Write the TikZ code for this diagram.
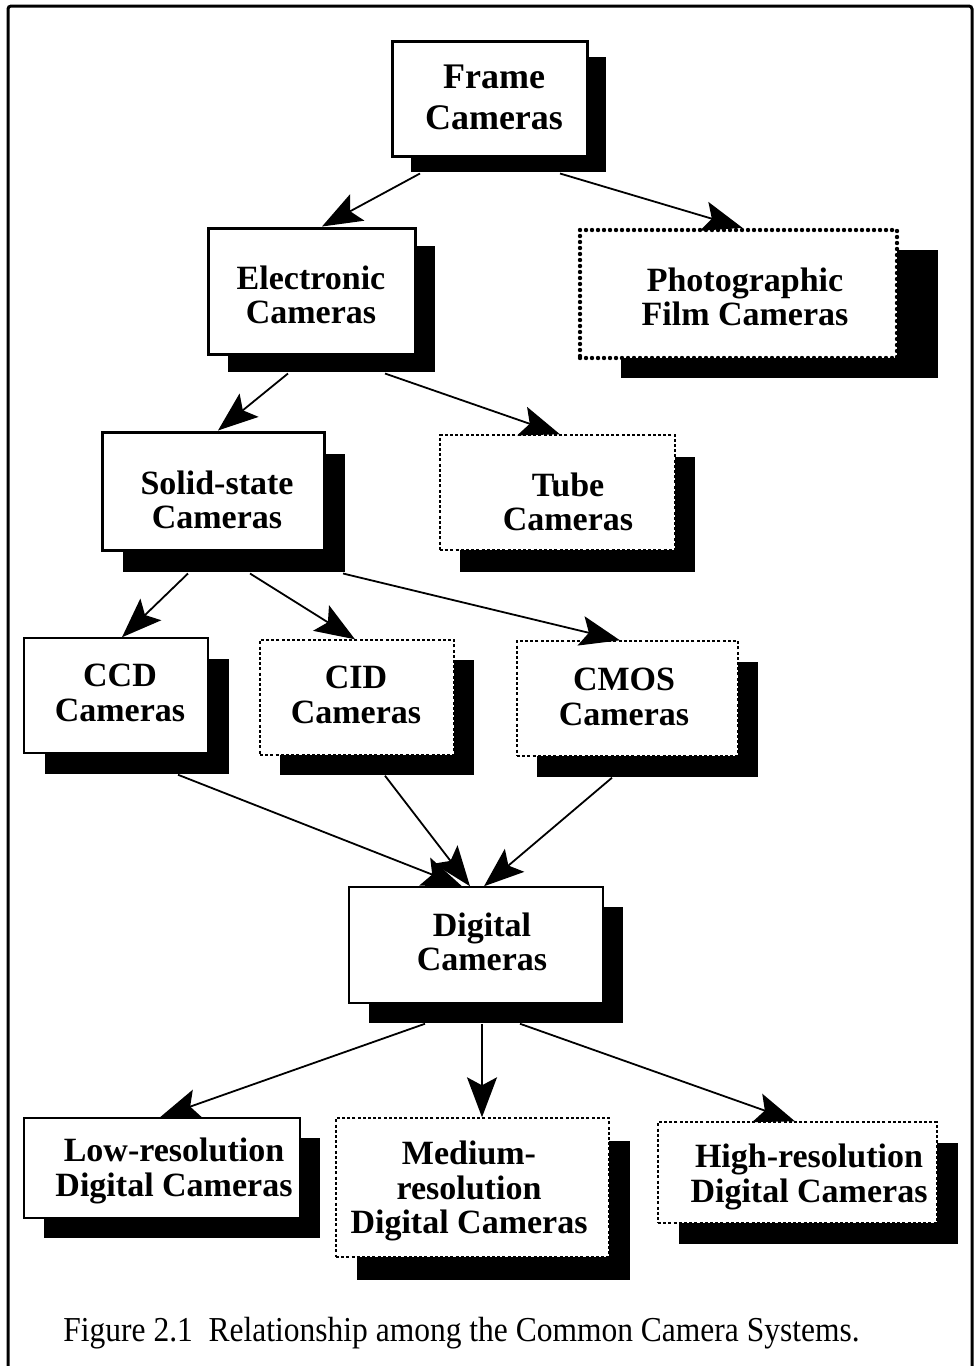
\documentclass[tikz,border=0pt]{standalone}
\usepackage{fontspec}
\setmainfont{Liberation Serif}
\usetikzlibrary{shadows,arrows.meta}

\begin{document}
\begin{tikzpicture}[x=1pt,y=-1pt,
  camtext/.style={align=center,inner sep=0pt,font=\bfseries\fontsize{34}{34.5}\selectfont},
  cambox/.style n args={4}{rectangle,fill=white,inner sep=0pt,
    minimum width=#1pt,minimum height=#2pt,
    general shadow={fill=black,draw=none,shadow xshift=#3pt,shadow yshift=-#4pt}},
  heavyline/.style={draw=black,line width=3pt},
  thinline/.style={draw=black,line width=1.5pt},
  heavydots/.style={draw=black,line width=4.4pt,line cap=round,dash pattern=on 0pt off 6pt},
  thindash/.style={draw=black,line width=1.4pt,dash pattern=on 3pt off 2.2pt},
  link/.style={line width=1.8pt,-{Stealth[length=40pt,width=30pt,inset=8pt,fill=black]}}
]
\useasboundingbox (0,0) rectangle (975,1366);

% outer frame (open at the foot of the page)
\draw[line width=3pt,rounded corners=3pt] (8,1372) -- (8,6) -- (972,6) -- (972,1372);

% boxes
\node[cambox={195}{115}{19}{16},heavyline] (frame) at (489.5,98.5) {};
\node[camtext,font=\bfseries\fontsize{36}{41}\selectfont] (frame-t) at (494,97) {Frame\\Cameras};

\node[cambox={207}{126}{20}{18},heavyline] (elec) at (311.5,291) {};
\node[camtext] (elec-t) at (311,295) {Electronic\\Cameras};

\node[cambox={317}{128}{41}{20},heavydots] (photo) at (738.5,294) {};
\node[camtext] (photo-t) at (745,297) {Photographic\\Film Cameras};

\node[cambox={222}{118}{21}{22},heavyline] (solid) at (213,491) {};
\node[camtext] (solid-t) at (217,500) {Solid-state\\Cameras};

\node[cambox={235}{115}{20}{22},thindash] (tube) at (557.5,492.5) {};
\node[camtext] (tube-t) at (568,502) {Tube\\Cameras};

\node[cambox={184}{115}{21}{21},thinline] (ccd) at (116,695.5) {};
\node[camtext] (ccd-t) at (120,693) {CCD\\Cameras};

\node[cambox={194}{115}{20}{20},thindash] (cid) at (357,697.5) {};
\node[camtext] (cid-t) at (356,695) {CID\\Cameras};

\node[cambox={221}{115}{20}{21},thindash] (cmos) at (627.5,698.5) {};
\node[camtext] (cmos-t) at (624,697) {CMOS\\Cameras};

\node[cambox={254}{116}{20}{20},thinline] (digital) at (476,945) {};
\node[camtext] (digital-t) at (482,942) {Digital\\Cameras};

\node[cambox={276}{100}{20}{20},thinline] (low) at (162,1168) {};
\node[camtext] (low-t) at (174,1171) {Low-resolution\\Digital Cameras};

\node[cambox={273}{139}{21}{23},thindash] (medium) at (472.5,1187.5) {};
\node[camtext] (medium-t) at (469,1191) {Medium-\\resolution\\Digital Cameras};

\node[cambox={279}{101}{21}{21},thindash] (high) at (797.5,1172.5) {};
\node[camtext] (high-t) at (809,1177) {High-resolution\\Digital Cameras};

% connectors
\draw[link] ([xshift=-69.5pt,yshift=-16pt]frame.south) -- ([xshift=10.5pt]elec.north);
\draw[link] ([xshift=70.5pt,yshift=-16pt]frame.south) -- ([xshift=4pt]photo.north);

\draw[link] ([xshift=-23.5pt,yshift=-18pt]elec.south) -- ([xshift=5pt]solid.north);
\draw[link] ([xshift=73.5pt,yshift=-18pt]elec.south) -- ([xshift=2.5pt]tube.north);

\draw[link] ([xshift=-25pt,yshift=-22pt]solid.south) -- ([xshift=6pt]ccd.north);
\draw[link] ([xshift=37pt,yshift=-22pt]solid.south) -- ([xshift=-2pt]cid.north);
\draw[link] ([xshift=130pt,yshift=-22pt]solid.south) -- ([xshift=-7.5pt]cmos.north);

\draw[link] ([xshift=62pt,yshift=-21pt]ccd.south) -- ([xshift=-14pt]digital.north);
\draw[link] ([xshift=28pt,yshift=-20pt]cid.south) -- ([xshift=-6pt]digital.north);
\draw[link] ([xshift=-15.5pt,yshift=-21pt]cmos.south) -- ([xshift=8pt]digital.north);

\draw[link] ([xshift=-51pt,yshift=-20pt]digital.south) -- ([xshift=-2pt]low.north);
\draw[link] ([xshift=6pt,yshift=-20pt]digital.south) -- ([xshift=9.5pt]medium.north);
\draw[link] ([xshift=44pt,yshift=-20pt]digital.south) -- ([xshift=-2.5pt]high.north);

% caption
\node[inner sep=0pt,font=\fontsize{35}{35}\selectfont,xscale=0.9] (caption) at (461.5,1333)
  {Figure 2.1\enspace Relationship among the Common Camera Systems.};
\end{tikzpicture}
\end{document}
